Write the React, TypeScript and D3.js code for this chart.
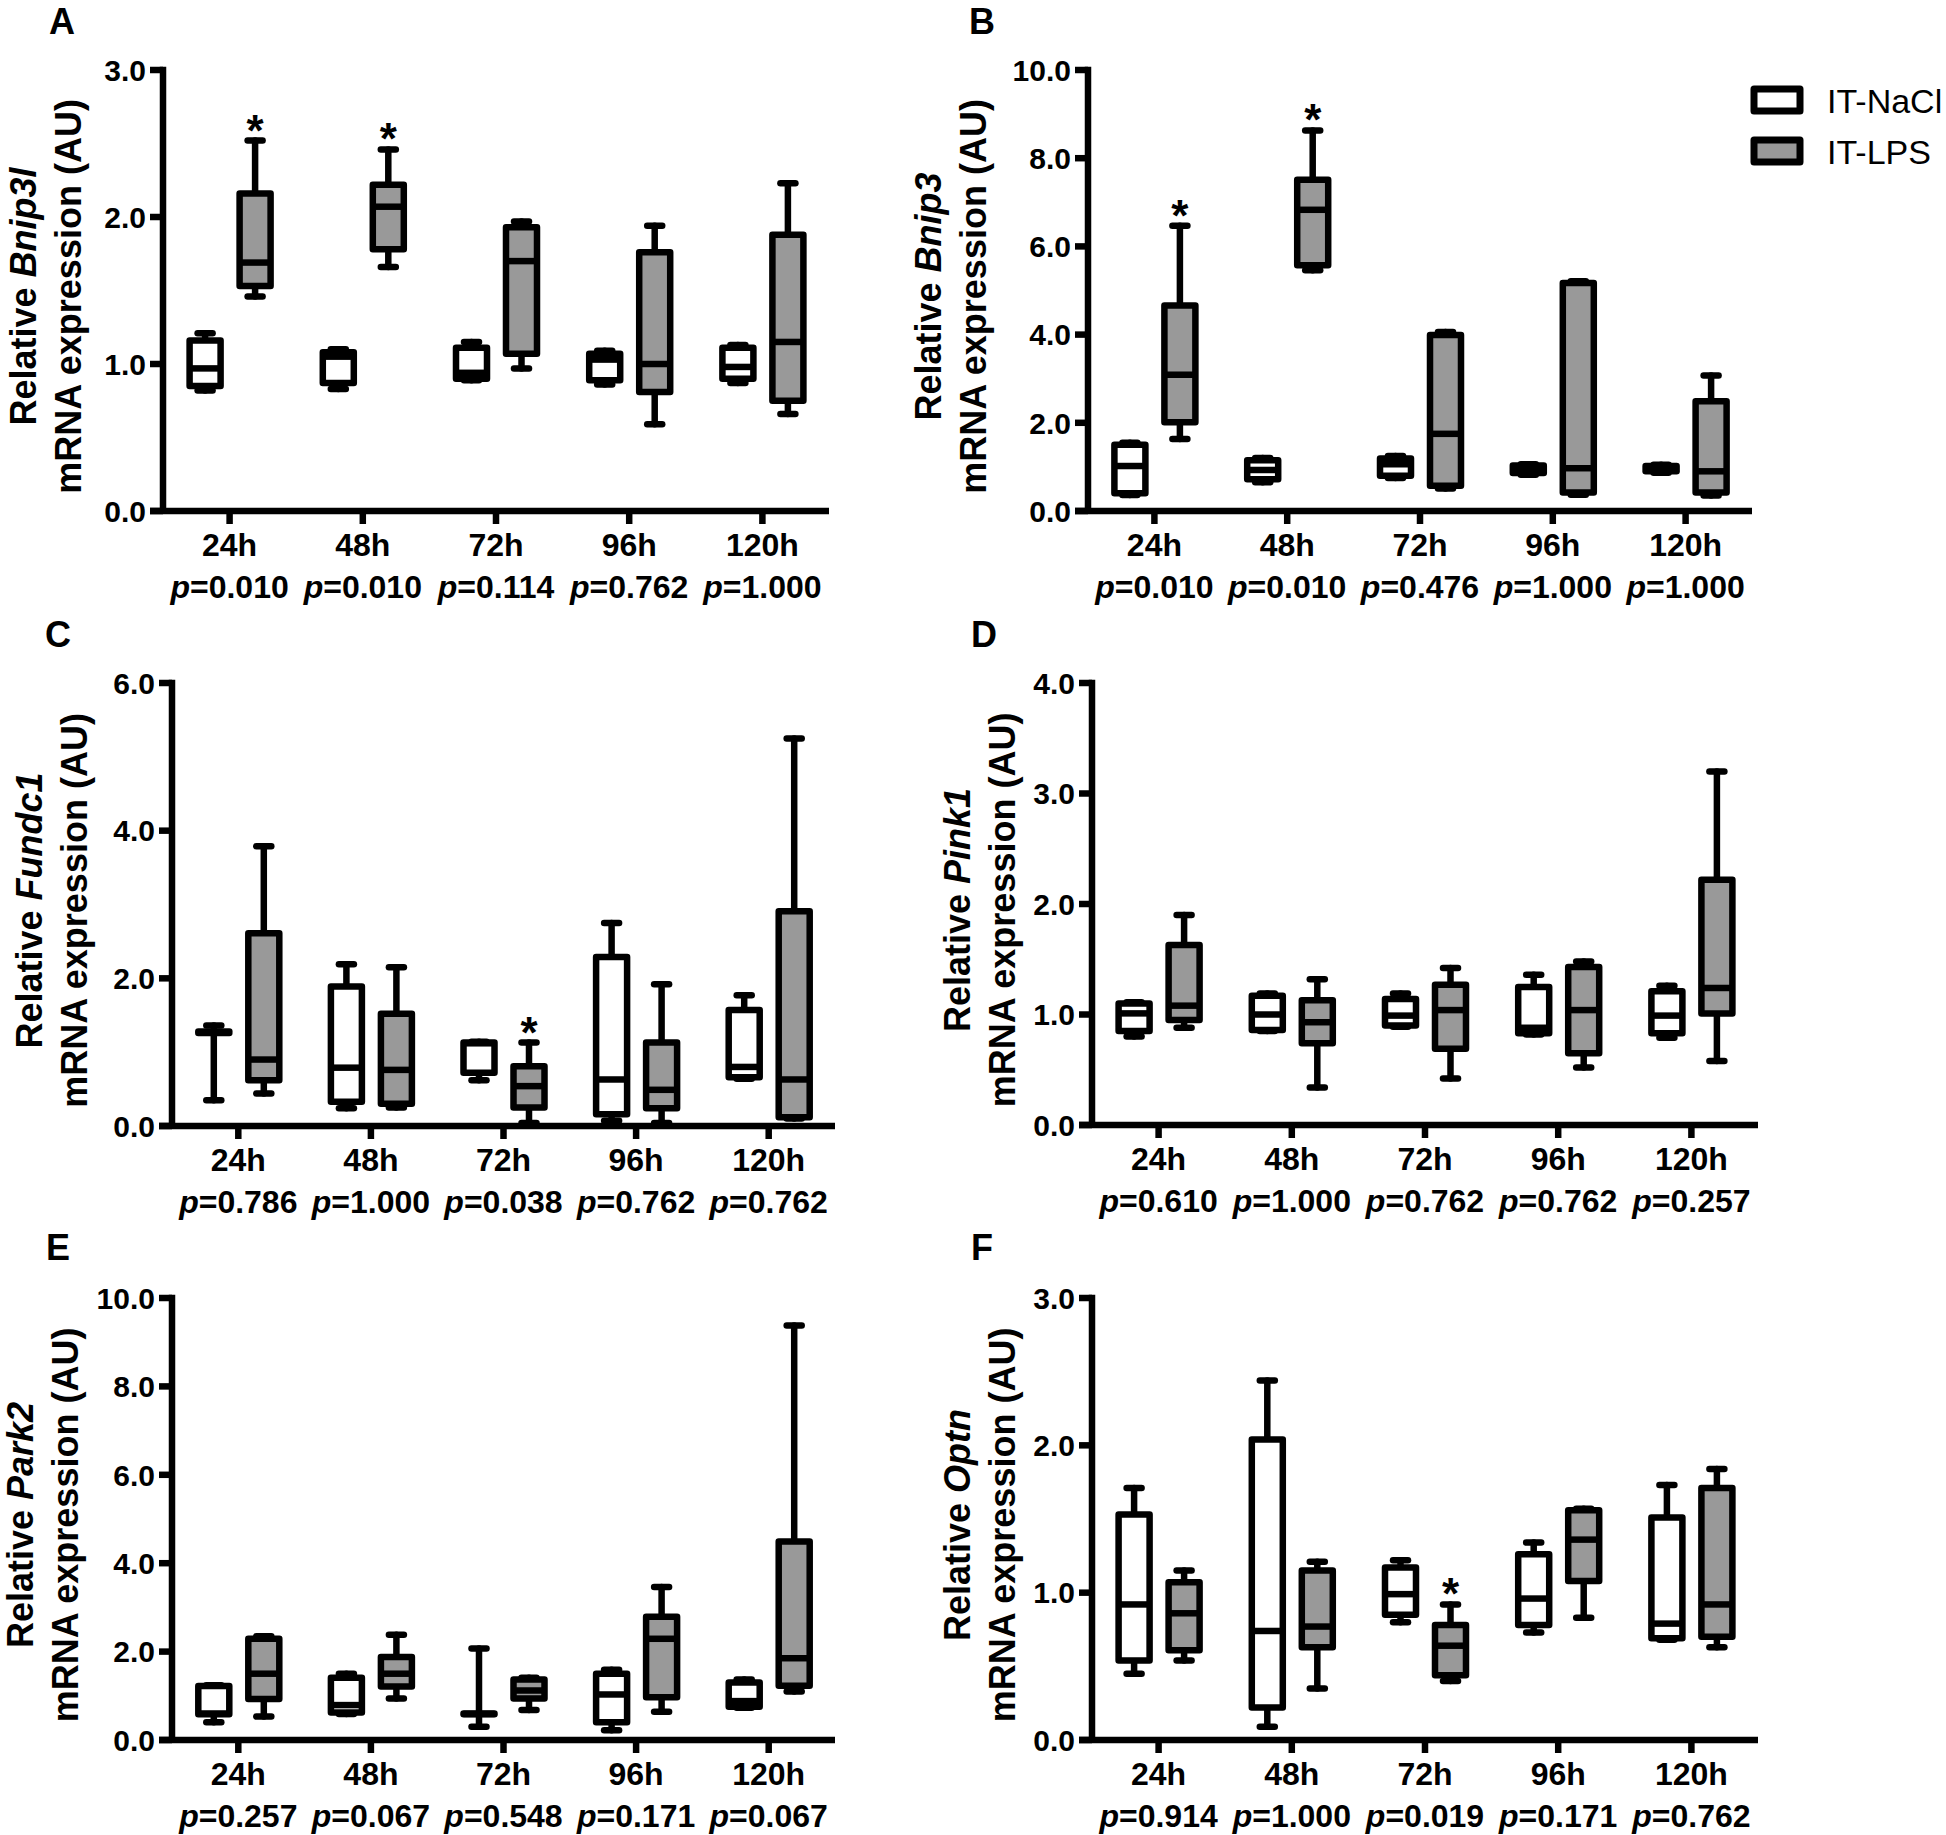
import React from 'react';
import * as d3 from 'd3';

const W = 1946;
const H = 1835;

const categories = ['24h', '48h', '72h', '96h', '120h'];
const groups = ['IT-NaCl', 'IT-LPS'];
const groupFills = ['#ffffff', '#999999'];

// each box: [min, q1, median, q3, max]
const bnip3lNaCl = [[0.82, 0.85, 0.97, 1.16, 1.21], [0.83, 0.87, 1.05, 1.08, 1.10], [0.89, 0.90, 0.94, 1.11, 1.15], [0.86, 0.89, 1.03, 1.07, 1.09], [0.87, 0.90, 0.98, 1.11, 1.13]];
const bnip3lLPS = [[1.46, 1.53, 1.69, 2.16, 2.52], [1.66, 1.78, 2.07, 2.22, 2.46], [0.97, 1.07, 1.70, 1.93, 1.97], [0.59, 0.81, 1.00, 1.76, 1.94], [0.66, 0.75, 1.15, 1.88, 2.23]];
const bnip3lP = ['0.010', '0.010', '0.114', '0.762', '1.000'];

const bnip3NaCl = [[0.36, 0.40, 1.02, 1.50, 1.55], [0.65, 0.72, 0.93, 1.15, 1.20], [0.75, 0.80, 1.06, 1.19, 1.25], [0.82, 0.86, 0.95, 1.03, 1.06], [0.87, 0.90, 0.97, 1.02, 1.05]];
const bnip3LPS = [[1.63, 2.01, 3.09, 4.66, 6.47], [5.46, 5.57, 6.83, 7.51, 8.63], [0.51, 0.57, 1.75, 3.99, 4.06], [0.37, 0.42, 0.97, 5.17, 5.21], [0.35, 0.42, 0.90, 2.49, 3.07]];
const bnip3P = ['0.010', '0.010', '0.476', '1.000', '1.000'];

const fundc1NaCl = [[0.35, 1.26, 1.27, 1.28, 1.36], [0.24, 0.33, 0.79, 1.89, 2.19], [0.62, 0.72, 1.12, 1.13, 1.14], [0.07, 0.16, 0.63, 2.29, 2.75], [0.64, 0.66, 0.80, 1.57, 1.77]];
const fundc1LPS = [[0.44, 0.62, 0.90, 2.61, 3.79], [0.25, 0.30, 0.76, 1.52, 2.15], [0.04, 0.25, 0.54, 0.81, 1.13], [0.04, 0.24, 0.49, 1.13, 1.92], [0.10, 0.12, 0.63, 2.91, 5.25]];
const fundc1P = ['0.786', '1.000', '0.038', '0.762', '0.762'];

const pink1NaCl = [[0.80, 0.85, 1.01, 1.10, 1.11], [0.85, 0.86, 1.00, 1.17, 1.19], [0.89, 0.90, 0.99, 1.14, 1.19], [0.82, 0.83, 0.88, 1.25, 1.36], [0.79, 0.83, 0.99, 1.21, 1.26]];
const pink1LPS = [[0.88, 0.95, 1.08, 1.63, 1.90], [0.34, 0.74, 0.93, 1.13, 1.32], [0.42, 0.69, 1.04, 1.27, 1.42], [0.52, 0.65, 1.04, 1.43, 1.48], [0.58, 1.01, 1.24, 2.22, 3.20]];
const pink1P = ['0.610', '1.000', '0.762', '0.762', '0.257'];

const park2NaCl = [[0.40, 0.58, 0.60, 1.22, 1.24], [0.59, 0.62, 0.79, 1.41, 1.50], [0.30, 0.58, 0.59, 0.60, 2.07], [0.22, 0.40, 1.03, 1.50, 1.59], [0.73, 0.75, 0.88, 1.30, 1.37]];
const park2LPS = [[0.53, 0.93, 1.50, 2.29, 2.35], [0.94, 1.21, 1.50, 1.88, 2.38], [0.68, 0.94, 1.12, 1.37, 1.41], [0.64, 0.97, 2.29, 2.79, 3.46], [1.10, 1.23, 1.85, 4.49, 9.38]];
const park2P = ['0.257', '0.067', '0.548', '0.171', '0.067'];

const optnNaCl = [[0.45, 0.54, 0.92, 1.53, 1.71], [0.09, 0.22, 0.74, 2.04, 2.44], [0.80, 0.85, 0.99, 1.17, 1.22], [0.73, 0.78, 0.96, 1.26, 1.34], [0.68, 0.69, 0.79, 1.51, 1.73]];
const optnLPS = [[0.54, 0.61, 0.86, 1.07, 1.15], [0.35, 0.63, 0.77, 1.15, 1.21], [0.40, 0.44, 0.64, 0.78, 0.92], [0.83, 1.08, 1.36, 1.56, 1.57], [0.63, 0.70, 0.92, 1.71, 1.84]];
const optnP = ['0.914', '1.000', '0.019', '0.171', '0.762'];

const panelLetters = ['A', 'B', 'C', 'D', 'E', 'F'];
const genes = ['Bnip3l', 'Bnip3', 'Fundc1', 'Pink1', 'Park2', 'Optn'];
const yMaxes = [3, 10, 6, 4, 10, 3];
const yTickSteps = [1, 2, 2, 1, 2, 1];
const naclSeries = [bnip3lNaCl, bnip3NaCl, fundc1NaCl, pink1NaCl, park2NaCl, optnNaCl];
const lpsSeries = [bnip3lLPS, bnip3LPS, fundc1LPS, pink1LPS, park2LPS, optnLPS];
const pValues = [bnip3lP, bnip3P, fundc1P, pink1P, park2P, optnP];
// significant LPS groups (category names)
const starCats = [['24h', '48h'], ['24h', '48h'], ['72h'], [], [], ['72h']];

// layout (positions only)
const layouts = [
  { x0: 163, x1: 829, yTop: 70, yBot: 511, titleOff: -82, lx: 49, ly: 34 },
  { x0: 1088, x1: 1752, yTop: 70, yBot: 511, titleOff: -102, lx: 969, ly: 34 },
  { x0: 172, x1: 835, yTop: 683, yBot: 1126, titleOff: -85, lx: 45, ly: 647 },
  { x0: 1092, x1: 1758, yTop: 683, yBot: 1125, titleOff: -77, lx: 971, ly: 647 },
  { x0: 172, x1: 835, yTop: 1298, yBot: 1740, titleOff: -94, lx: 46, ly: 1260 },
  { x0: 1092, x1: 1758, yTop: 1298, yBot: 1740, titleOff: -77, lx: 971, ly: 1260 },
];

const FONT = 'Liberation Sans, Arial, Helvetica, sans-serif';
const SW = 6.5;
const BOX_W = 31;
const CAP_HALF = 7.5;

function BoxPlot({ cx, y, v, fill }: { cx: number; y: d3.ScaleLinear<number, number>; v: number[]; fill: string }) {
  const [mn, q1, md, q3, mx] = v;
  const hw = BOX_W / 2;
  return (
    <g stroke="#000" strokeWidth={SW} strokeLinecap="round" strokeLinejoin="round">
      <line x1={cx} x2={cx} y1={y(q3)} y2={y(mx)} />
      <line x1={cx} x2={cx} y1={y(q1)} y2={y(mn)} />
      <line x1={cx - CAP_HALF} x2={cx + CAP_HALF} y1={y(mx)} y2={y(mx)} />
      <line x1={cx - CAP_HALF} x2={cx + CAP_HALF} y1={y(mn)} y2={y(mn)} />
      <rect x={cx - hw} y={y(q3)} width={BOX_W} height={Math.max(0.5, y(q1) - y(q3))} fill={fill} />
      <line x1={cx - hw} x2={cx + hw} y1={y(md)} y2={y(md)} strokeLinecap="butt" />
    </g>
  );
}

function Panel({ i }: { i: number }) {
  const L = layouts[i];
  const y = d3.scaleLinear().domain([0, yMaxes[i]]).range([L.yBot, L.yTop]);
  const x = d3.scalePoint<string>().domain(categories).range([L.x0, L.x1]).padding(0.5);
  const off = d3.scalePoint<string>().domain(groups).range([-24.5, 25.5]);
  const ticks = d3.range(0, yMaxes[i] + 1e-9, yTickSteps[i]);
  const series = [naclSeries[i], lpsSeries[i]];
  const titleCy = (L.yTop + L.yBot) / 2 + 6;
  const line2X = L.x0 + L.titleOff;
  const line1X = line2X - 45;
  return (
    <g fontFamily={FONT}>
      <text x={L.lx} y={L.ly} fontSize={36} fontWeight="bold">{panelLetters[i]}</text>
      {/* y title */}
      <text transform={`translate(${line1X},${titleCy}) rotate(-90)`} textAnchor="middle" fontSize={36} fontWeight="bold">
        Relative <tspan fontStyle="italic">{genes[i]}</tspan>
      </text>
      <text transform={`translate(${line2X},${titleCy}) rotate(-90)`} textAnchor="middle" fontSize={36} fontWeight="bold">
        mRNA expression (AU)
      </text>
      {/* axes */}
      <g stroke="#000" strokeWidth={SW}>
        <line x1={L.x0} x2={L.x0} y1={y(yMaxes[i]) - SW / 2} y2={L.yBot} />
        <line x1={L.x0 - 13} x2={L.x1} y1={L.yBot} y2={L.yBot} />
        {ticks.map((t) => (
          <line key={t} x1={L.x0 - 13} x2={L.x0} y1={y(t)} y2={y(t)} />
        ))}
        {categories.map((c) => (
          <line key={c} x1={x(c)} x2={x(c)} y1={L.yBot} y2={L.yBot + 13} />
        ))}
      </g>
      {ticks.map((t) => (
        <text key={t} x={L.x0 - 17} y={y(t)} dy="0.36em" textAnchor="end" fontSize={30} fontWeight="bold">
          {d3.format('.1f')(t)}
        </text>
      ))}
      {categories.map((c, k) => (
        <g key={c}>
          <text x={x(c)} y={L.yBot + 45} textAnchor="middle" fontSize={32} fontWeight="bold">{c}</text>
          <text x={x(c)} y={L.yBot + 87} textAnchor="middle" fontSize={32} fontWeight="bold">
            <tspan fontStyle="italic">p</tspan>={pValues[i][k]}
          </text>
        </g>
      ))}
      {groups.map((g, gi) =>
        categories.map((c, k) => (
          <BoxPlot key={g + c} cx={(x(c) as number) + (off(g) as number)} y={y} v={series[gi][k]} fill={groupFills[gi]} />
        ))
      )}
      {starCats[i].map((c) => {
        const k = categories.indexOf(c);
        const cx = (x(c) as number) + (off(groups[1]) as number);
        return (
          <text key={c} x={cx} y={y(lpsSeries[i][k][4]) + 5} textAnchor="middle" fontSize={44} fontWeight="bold">*</text>
        );
      })}
    </g>
  );
}

function Legend() {
  const lx = 1754;
  const rows = [100, 151];
  return (
    <g fontFamily={FONT}>
      {groups.map((g, gi) => (
        <g key={g}>
          <rect x={lx} y={rows[gi] - 11} width={46} height={22} fill={groupFills[gi]} stroke="#000" strokeWidth={7} strokeLinejoin="round" />
          <text x={1827} y={rows[gi] + 12.5} fontSize={34}>{g}</text>
        </g>
      ))}
    </g>
  );
}

export default function App() {
  return (
    <svg
      width={W}
      height={H}
      viewBox={`0 0 ${W} ${H}`}
      style={{ position: 'absolute', left: 0, top: 0, display: 'block', background: '#fff' }}
    >
      <rect x={0} y={0} width={W} height={H} fill="#fff" />
      {layouts.map((_, i) => (
        <Panel key={i} i={i} />
      ))}
      <Legend />
    </svg>
  );
}
